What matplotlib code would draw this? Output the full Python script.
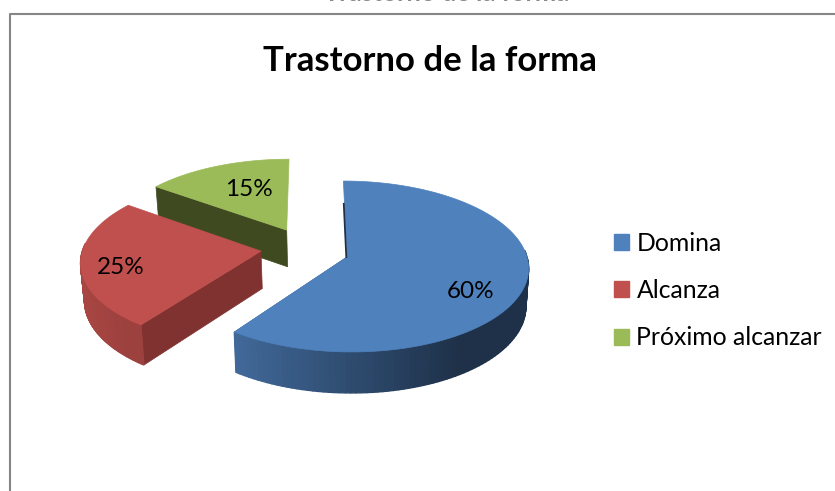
import numpy as np
import matplotlib
matplotlib.use('Agg')
import matplotlib.pyplot as plt
from matplotlib.patches import Patch
from matplotlib.colors import to_rgb

categories = ['Domina', 'Alcanza', 'Próximo alcanzar']
values = [60, 25, 15]
title = 'Trastorno de la forma'

top_colors = ['#4F81BD', '#C0504D', '#9BBB59']
rim_left = ['#41699A', '#A84643', '#3F4A20']
rim_right = ['#1E3149', '#9C413E', '#3F4A20']
cut_colors = ['#3D6594', '#7F3230', '#3F4A20']
# explosion of each slice, in units of the disc radius
offsets = [(0.0, 0.0), (-0.48, 0.07), (-0.34, 0.33)]
# which flat face of the slice can be seen: last or first
seen_cut = [-1, 0, 0]
label_pos = [(471, 291), (121, 267), (249, 189)]

cx, cy = 347, 257
rx, ry = 180, 84.4
persp = 0.111
shear = -4
shrink = 0.985


def project(x, y):
    w = 1 + persp * y
    return cx + (rx * x + shear * y) / w, cy - ry * y / w


def drop(px, py):
    # same point on the underside of the pie, further back means less depth
    depth = np.clip(37 + (py - 240) * 0.036, 36, 41)
    return cx + (px - cx) * shrink, py + depth


def mix(c1, c2, t):
    a, b = np.array(to_rgb(c1)), np.array(to_rgb(c2))
    return tuple(a + (b - a) * t)


def draw_slice(ax, start, end, off, top, left, right, cut, seen):
    theta = np.radians(np.linspace(start, end, 140))
    ex, ey = project(off[0] + np.sin(theta), off[1] + np.cos(theta))
    ax0, ay0 = project(off[0], off[1])

    # flat face
    p = [(ax0, ay0), (ex[seen], ey[seen]), drop(ex[seen], ey[seen]), drop(ax0, ay0)]
    ax.fill(*zip(*p), color=cut, lw=0.5, zorder=2)

    # outer rim, only the part facing us, shaded strip by strip
    front = np.cos(theta) < 0.1
    rx_pts, ry_pts = ex[front], ey[front]
    if len(rx_pts) > 1:
        bx, by = drop(rx_pts, ry_pts)
        xmin, xmax = rx_pts.min(), rx_pts.max()
        for i in range(len(rx_pts) - 1):
            t = (rx_pts[i] - xmin) / (xmax - xmin)
            ax.fill([rx_pts[i], rx_pts[i + 1], bx[i + 1], bx[i]],
                    [ry_pts[i], ry_pts[i + 1], by[i + 1], by[i]],
                    color=mix(left, right, min(t * 1.3, 1)), lw=1, zorder=2)

    ax.fill(np.r_[ax0, ex], np.r_[ay0, ey], color=top, lw=0.5, zorder=3)
    return (ax0, ay0), (ex[0], ey[0])


plt.rcParams['font.family'] = ['Lato', 'DejaVu Sans']
fig = plt.figure(figsize=(8.35, 4.91), dpi=100)
ax = fig.add_axes([0, 0, 1, 1])
ax.set_xlim(0, 835)
ax.set_ylim(491, 0)
ax.axis('off')

# chart frame
ax.plot([9.5, 9.5, 835], [491, 14, 14], color='#868686', lw=1.5, zorder=1)

# title of the sheet behind, cut by the top of the picture
ax.text(447, 0.8, title, fontsize=18.4, fontweight='bold', color='#888888',
        ha='center', va='baseline', zorder=1)
ax.text(430, 61, title, fontsize=25, fontweight='bold', color='black',
        ha='center', va='center', zorder=5)

angles = np.cumsum([0] + values) / sum(values) * 360
# back slices first so the front ones cover them
for i in [2, 1, 0]:
    apex, first = draw_slice(ax, angles[i], angles[i + 1], offsets[i], top_colors[i],
                             rim_left[i], rim_right[i], cut_colors[i], seen_cut[i])
    if i == 0:
        # thin dark sliver along the first cut of the big slice
        ax.plot([first[0] + 0.3 * (apex[0] - first[0]) - 0.7, apex[0] - 0.7],
                [first[1] + 0.3 * (apex[1] - first[1]), apex[1]],
                color=rim_right[0], lw=1.3, zorder=4)

for v, (lx, ly) in zip(values, label_pos):
    ax.text(lx, ly, f'{v}%', fontsize=17.5, color='black', ha='center', va='center', zorder=5)

handles = [Patch(color=c, label=n) for c, n in zip(top_colors, categories)]
ax.legend(handles=handles, loc='center left', bbox_to_anchor=(592, 290.5),
          bbox_transform=ax.transData, frameon=False, fontsize=17.8,
          handlelength=0.6, handleheight=0.6, handletextpad=0.3, labelspacing=0.99)

fig.savefig('out.png', dpi=100)
